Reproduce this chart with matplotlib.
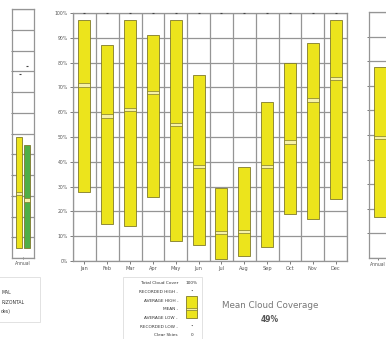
import matplotlib
matplotlib.use("Agg")
import matplotlib.pyplot as plt
from matplotlib.patches import Rectangle

months = ["Jan", "Feb", "Mar", "Apr", "May", "Jun", "Jul", "Aug", "Sep", "Oct", "Nov", "Dec"]
avg_high = [97, 87, 97, 91, 97, 75, 29.5, 38, 64, 80, 88, 97]
avg_low = [28, 15, 14, 26, 8, 6.5, 1, 2, 5.5, 19, 17, 25]
mean = [71, 58.5, 61, 68, 55, 38, 11.5, 12, 38, 48, 65, 73.5]
rec_high = [100] * 12
y_ticks = [0, 10, 20, 30, 40, 50, 60, 70, 80, 90, 100]
y_labels = ["0%", "10%", "20%", "30%", "40%", "50%", "60%", "70%", "80%", "90%", "100%"]

annual_high = 77.5
annual_low = 16.5
annual_mean = 49

left_yellow = [48.5, 4, 26]   # high, low, mean
left_green = [45.5, 4, 23.3]

YEL = "#ece41c"
EDGE = "#7f7a2a"
GRID = "#959595"
MEANC = "#f6f1a8"
TXT = "#555555"

fig = plt.figure(figsize=(3.86, 3.39), dpi=100)
W, H = 386, 339

def ax_px(x0, y0, x1, y1):
    return fig.add_axes([x0 / W, 1 - y1 / H, (x1 - x0) / W, (y1 - y0) / H])

def draw_bar(ax, x, lo, hi, mn, w, color=YEL):
    ax.add_patch(Rectangle((x - w / 2, lo), w, hi - lo, facecolor=color, edgecolor=EDGE, lw=0.6, zorder=3))
    ax.add_patch(Rectangle((x - w / 2, mn - 0.7), w, 1.4, facecolor=MEANC, edgecolor=EDGE, lw=0.5, zorder=4))

# ---------------- main chart
ax = ax_px(73, 13, 347, 261)
n = len(months)
ax.set_xlim(0, n)
ax.set_ylim(0, 100)
for i in range(n + 1):
    ax.axvline(i, color=GRID, lw=0.9, zorder=1)
for t in y_ticks:
    ax.axhline(t, color=GRID, lw=0.9, zorder=1)
for i in range(n):
    draw_bar(ax, i + 0.5, avg_low[i], avg_high[i], mean[i], 0.52)
ax.plot([i + 0.5 for i in range(n)], rec_high, ls="none", marker="_", ms=2, mew=0.8, color="#444444", zorder=5, clip_on=False)
ax.set_xticks([i + 0.5 for i in range(n)])
ax.set_xticklabels(months, fontsize=3.6, color=TXT)
ax.set_yticks(y_ticks)
ax.set_yticklabels(y_labels, fontsize=3.3, color=TXT)
ax.tick_params(axis="both", length=2, width=0.6, color="#666666", pad=1.5)
for s in ax.spines.values():
    s.set_color(GRID)
    s.set_linewidth(0.9)

# ---------------- left partial panel
axl = ax_px(12, 9, 34, 258)
axl.set_xlim(0, 1)
axl.set_ylim(0, 100)
for k in range(13):
    axl.axhline(k * 100 / 12, color=GRID, lw=0.9, zorder=1)
draw_bar(axl, 0.3, left_yellow[1], left_yellow[0], left_yellow[2], 0.28)
draw_bar(axl, 0.7, left_green[1], left_green[0], left_green[2], 0.28, color="#4fae47")
axl.plot([0.7, 0.35], [77, 74], ls="none", marker="_", ms=2, mew=0.8, color="#444444", zorder=5)
axl.set_xticks([0.5])
axl.set_xticklabels(["Annual"], fontsize=3.3, color=TXT)
axl.set_yticks([k * 100 / 12 for k in range(1, 12)])
axl.set_yticklabels([])
axl.tick_params(axis="both", length=1.5, width=0.6, color="#666666", pad=1.5, direction="inout")
for s in axl.spines.values():
    s.set_color(GRID)
    s.set_linewidth(0.9)

# ---------------- right partial panel (annual)
axr = ax_px(369, 12, 420, 258)
axr.set_xlim(0, 1)
axr.set_ylim(0, 100)
for t in y_ticks:
    axr.axhline(t, color=GRID, lw=0.9, zorder=1)
draw_bar(axr, 0.37, annual_low, annual_high, annual_mean, 0.55)
axr.plot([0.37], [100], ls="none", marker="_", ms=2, mew=0.8, color="#444444", zorder=5, clip_on=False)
axr.set_xticks([0.18])
axr.set_xticklabels(["Annual"], fontsize=3.3, color=TXT)
axr.set_yticks(y_ticks[1:-1])
axr.set_yticklabels([])
axr.tick_params(axis="both", length=1.5, width=0.6, color="#666666", pad=1.5)
for s in axr.spines.values():
    s.set_color(GRID)
    s.set_linewidth(0.9)

# ---------------- bottom-left partial legend box
fig.patches.append(Rectangle((-10 / W, 1 - 322 / H), 50 / W, 45 / H, transform=fig.transFigure,
                             facecolor="white", edgecolor="#dddddd", lw=0.6))
for yy, s in [(292, "MAL"), (302, "RIZONTAL"), (312, "des)")]:
    fig.text(1 / W, 1 - yy / H, s, fontsize=3.3, color="#333333", va="center", ha="left")

# ---------------- legend
fig.patches.append(Rectangle((123 / W, 1 - 342 / H), 79 / W, 65 / H, transform=fig.transFigure,
                             facecolor="white", edgecolor="#dddddd", lw=0.6))
leg_rows = [(283, "Total Cloud Cover", "100%"), (292, "RECORDED HIGH -", "•"), (301, "AVERAGE HIGH -", ""),
            (309, "MEAN -", ""), (318, "AVERAGE LOW -", ""), (327, "RECORDED LOW -", "•"), (335, "Clear Skies", "0")]
for yy, lab, val in leg_rows:
    fig.text(178 / W, 1 - yy / H, lab, fontsize=3.1, color="#333333", ha="right", va="center")
    if val:
        fig.text(192 / W, 1 - yy / H, val, fontsize=3.1, color="#333333", ha="center", va="center")
fig.patches.append(Rectangle((186 / W, 1 - 318 / H), 11 / W, 22 / H, transform=fig.transFigure,
                             facecolor=YEL, edgecolor=EDGE, lw=0.6))
fig.patches.append(Rectangle((186 / W, 1 - 310 / H), 11 / W, 2 / H, transform=fig.transFigure,
                             facecolor=MEANC, edgecolor=EDGE, lw=0.5))

# ---------------- mean text
fig.text(270 / W, 1 - 306 / H, "Mean Cloud Coverage", fontsize=6.3, color="#777777", ha="center", va="center")
fig.text(270 / W, 1 - 319 / H, "49%", fontsize=5.5, color="#555555", ha="center", va="center", fontweight="bold")

fig.savefig("out.png", dpi=100)
